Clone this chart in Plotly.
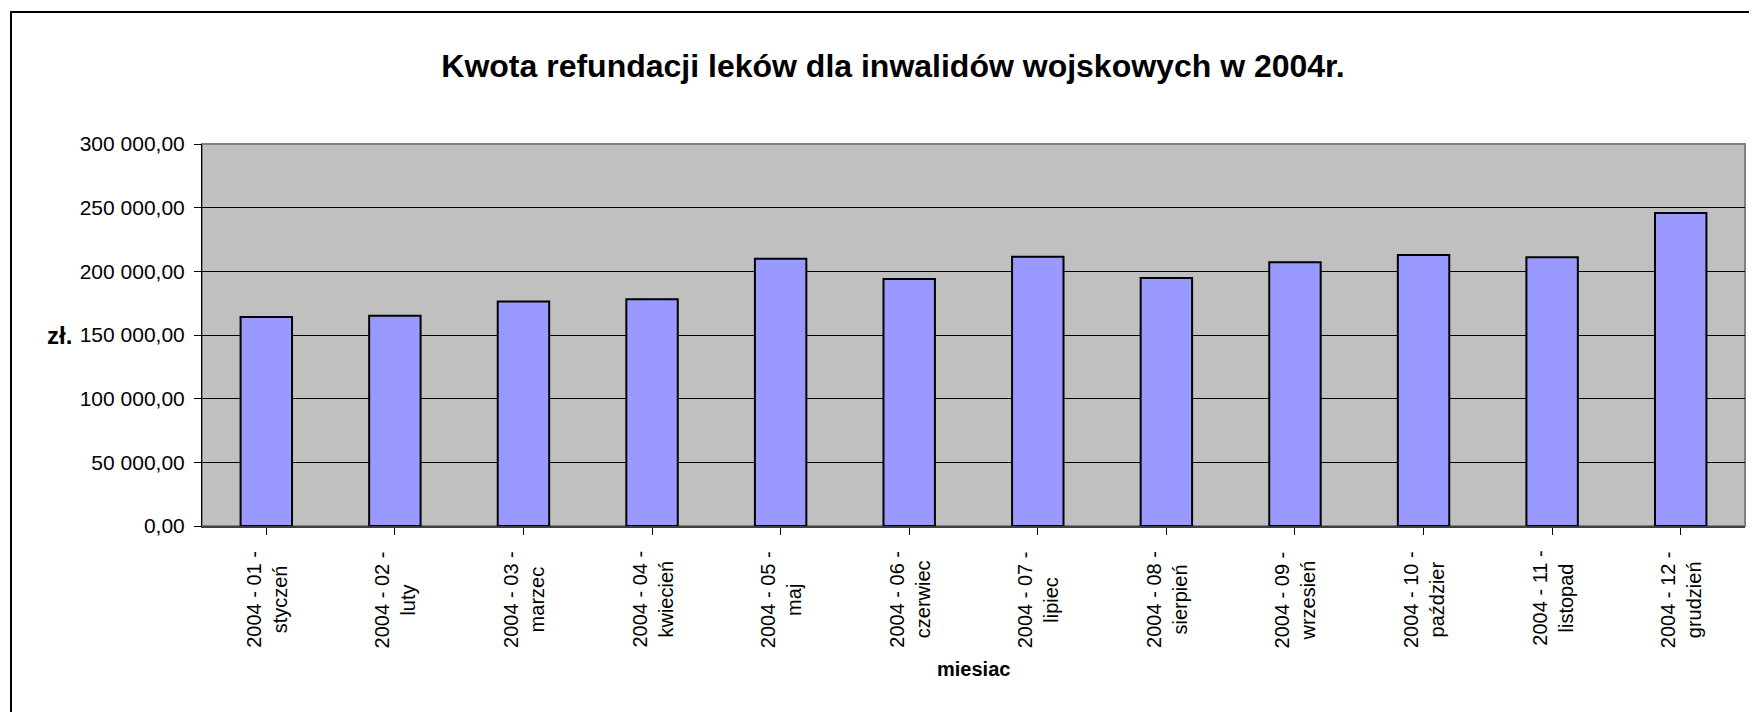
import plotly.graph_objects as go

months = ["2004 - 01 -<br>styczeń", "2004 - 02 -<br>luty", "2004 - 03 -<br>marzec",
          "2004 - 04 -<br>kwiecień", "2004 - 05 -<br>maj", "2004 - 06 -<br>czerwiec",
          "2004 - 07 -<br>lipiec", "2004 - 08 -<br>sierpień", "2004 - 09 -<br>wrzesień",
          "2004 - 10 -<br>paździer", "2004 - 11 -<br>listopad", "2004 - 12 -<br>grudzień"]
values = [164100, 165100, 176400, 178000, 209800, 193900,
          211500, 194800, 207100, 212800, 211000, 245800]
y_ticks = [0, 50000, 100000, 150000, 200000, 250000, 300000]

FONT = "Arial, Liberation Sans, sans-serif"

fig = go.Figure(go.Bar(
    x=months, y=values,
    marker=dict(color="#9999FF", line=dict(color="black", width=2)),
    width=0.4,
))

# page has an 8px body margin: figure coords = page coords - 8
W, H = 1749, 704
L, R, T, B = 194, 12, 136, 186
PW, PH = W - L - R, H - T - B

fig.update_layout(
    width=W, height=H,
    margin=dict(l=L, r=R, t=T, b=B),
    paper_bgcolor="white",
    plot_bgcolor="#C0C0C0",
    separators=", ",
    showlegend=False,
    font=dict(family=FONT, size=20, color="black"),
    title=dict(text="<b>Kwota refundacji leków dla inwalidów wojskowych w 2004r.</b>",
               x=885 / W, xanchor="center", y=1 - 58 / H, yanchor="middle",
               font=dict(family=FONT, size=32, color="black")),
)
fig.update_xaxes(
    ticks="outside", ticklen=7, tickcolor="black",
    showline=True, linecolor="#404040", linewidth=2,
    showticklabels=False,
)
fig.update_yaxes(
    range=[0, 300000], tickvals=y_ticks, tickformat=",.2f",
    ticks="outside", ticklen=7, tickcolor="black",
    showline=True, linecolor="black", linewidth=1,
    showgrid=True, gridcolor="black", gridwidth=1,
    zeroline=False, ticklabelstandoff=5,
    tickfont=dict(family=FONT, size=21),
)
# category labels, centred two-line text rotated like the reference
for m in months:
    fig.add_annotation(text=m, x=m, xref="x", y=0, yref="paper",
                       xanchor="center", yanchor="top", yshift=-23,
                       textangle=-90, align="center", showarrow=False,
                       font=dict(family=FONT, size=20, color="black"))
# plot area border (gray, like Excel)
fig.add_shape(type="rect", xref="paper", yref="paper", x0=0, x1=1, y0=0, y1=1,
              line=dict(color="#808080", width=2), layer="below")
# chart area border
fig.add_shape(type="rect", xref="paper", yref="paper",
              x0=(3 - L) / PW, x1=(W + 20 - L) / PW,
              y0=-(H + 20 - T - PH) / PH, y1=1 + (T - 4) / PH,
              line=dict(color="black", width=2))
fig.add_annotation(text="<b>zł.</b>", xref="paper", yref="paper",
                   x=(51 - L) / PW, y=0.5, showarrow=False,
                   xanchor="center", yanchor="middle",
                   font=dict(family=FONT, size=24, color="black"))
fig.add_annotation(text="<b>miesiac</b>", xref="paper", yref="paper",
                   x=0.5, y=-(661 - T - PH) / PH, showarrow=False,
                   xanchor="center", yanchor="middle",
                   font=dict(family=FONT, size=20, color="black"))

fig.write_html("out.html")
